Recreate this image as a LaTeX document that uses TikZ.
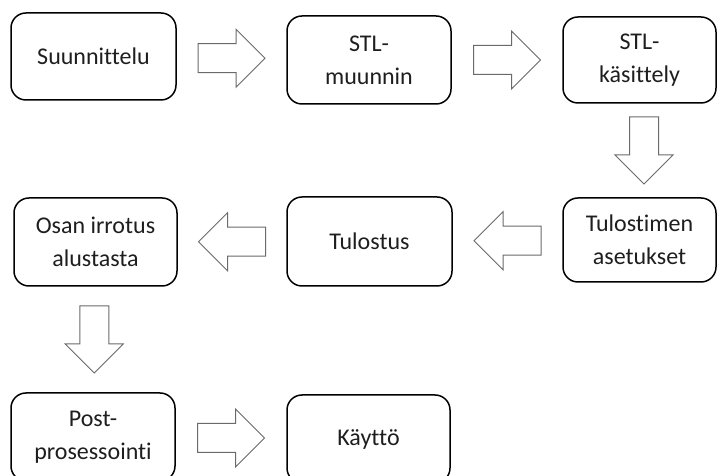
\documentclass[tikz,border=0pt]{standalone}
\usepackage{fontspec}
\setmainfont[Ligatures={CommonOff,NoRequired}]{Carlito}
\usetikzlibrary{calc}
\definecolor{txt}{HTML}{1E1E1E}
\definecolor{arrgray}{HTML}{6A6A6A}
\tikzset{
  stepbox/.style={draw=black, line width=1.5pt, rounded corners=15pt, align=center,
    text=txt, font=\fontsize{24}{33}\selectfont, inner sep=0pt},
  arrline/.style={draw=arrgray, line width=1pt, fill=white, line join=miter},
  pics/barrow/.style={code={
    \path[arrline] (-33.5,-14.5) -- (4.5,-14.5) -- (4.5,-29) -- (33.5,0) -- (4.5,29) -- (4.5,14.5) -- (-33.5,14.5) -- cycle;
  }}
}
\begin{document}
\begin{tikzpicture}[x=1pt,y=1pt]
\useasboundingbox (0,0) rectangle (717,476);
\node[stepbox, minimum width=165pt, minimum height=87pt] (b1) at (93.5,419.5) {Suunnittelu};
\node[stepbox, minimum width=164pt, minimum height=88pt] (b2) at (369,416) {STL-\\muunnin};
\node[stepbox, minimum width=153pt, minimum height=86pt] (b3) at (639.5,416) {STL-\\käsittely};
\node[stepbox, minimum width=153pt, minimum height=84pt] (b4) at (639.5,236) {Tulostimen\\asetukset};
\node[stepbox, minimum width=165pt, minimum height=89pt] (b5) at (369.5,234.5) {Tulostus};
\node[stepbox, minimum width=163pt, minimum height=88pt] (b6) at (95.5,234) {Osan irrotus\\alustasta};
\node[stepbox, minimum width=164pt, minimum height=88pt] (b7) at (93,39) {Post-\\prosessointi};
\node[stepbox, minimum width=163pt, minimum height=88pt] (b8) at (368.5,37) {Käyttö};
\pic at ($(b1.east)!0.5!(b2.west)$) {barrow};
\pic at ($(b2.east)!0.5!(b3.west)$) {barrow};
\pic[rotate=-90] at ($(b3.south)!0.5!(b4.north)+(4.5,0)$) {barrow};
\pic[rotate=180] at ($(b4.west)!0.5!(b5.east)$) {barrow};
\pic[rotate=180] at ($(b5.west)!0.5!(b6.east)$) {barrow};
\pic[rotate=-90] at ($(b6.south)!0.5!(b7.north)$) {barrow};
\pic at ($(b7.east)!0.5!(b8.west)$) {barrow};
\end{tikzpicture}
\end{document}
